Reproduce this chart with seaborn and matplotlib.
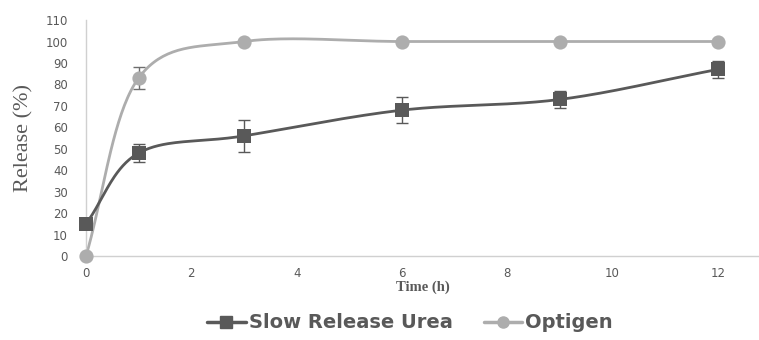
import numpy as np
import pandas as pd
import matplotlib
matplotlib.use("Agg")
import matplotlib.pyplot as plt
import seaborn as sns
from matplotlib.lines import Line2D

time_h = [0, 1, 3, 6, 9, 12]
slow_release = [15, 48, 56, 68, 73, 87]
slow_err = [0, 4, 7.5, 6, 4, 4]
optigen = [0, 83, 100, 100, 100, 100]
optigen_err = [0, 5, 0, 0, 0, 0]
series_names = ["Slow Release Urea", "Optigen"]
y_ticks = list(range(0, 111, 10))
x_ticks = list(range(0, 13, 2))

def smooth(x, y, n=40):
    # Catmull-Rom style smoothing (like spreadsheet "smoothed line")
    x = np.asarray(x, float); y = np.asarray(y, float)
    px = np.concatenate([[2*x[0]-x[1]], x, [2*x[-1]-x[-2]]])
    py = np.concatenate([[2*y[0]-y[1]], y, [2*y[-1]-y[-2]]])
    xs, ys = [], []
    for i in range(1, len(px)-2):
        p0 = np.array([px[i-1], py[i-1]]); p1 = np.array([px[i], py[i]])
        p2 = np.array([px[i+1], py[i+1]]); p3 = np.array([px[i+2], py[i+2]])
        c1 = p1 + (p2 - p0) / 6.0
        c2 = p2 - (p3 - p1) / 6.0
        t = np.linspace(0, 1, n)[:, None]
        b = (1-t)**3*p1 + 3*(1-t)**2*t*c1 + 3*(1-t)*t**2*c2 + t**3*p2
        xs.append(b[:, 0]); ys.append(b[:, 1])
    return np.concatenate(xs), np.concatenate(ys)

sns.set_theme(style="white")
plt.rcParams['font.family'] = ['DejaVu Sans']

fig = plt.figure(figsize=(7.59, 3.40), dpi=100)
ax = fig.add_axes([0.1133, 0.247, 0.8867, 0.694])

dark = "#595959"
light = "#ADADAD"

sx, sy = smooth(time_h, slow_release)
ox, oy = smooth(time_h, optigen)
sdf = pd.DataFrame({"x": sx, "y": sy})
odf = pd.DataFrame({"x": ox, "y": oy})
sns.lineplot(data=odf, x="x", y="y", ax=ax, color=light, lw=2, sort=False, zorder=2)
sns.lineplot(data=sdf, x="x", y="y", ax=ax, color=dark, lw=2, sort=False, zorder=3)

ax.errorbar(time_h, optigen, yerr=optigen_err, fmt="none", ecolor="#6e6e6e", elinewidth=1, capsize=4, capthick=1, zorder=4)
ax.errorbar(time_h, slow_release, yerr=slow_err, fmt="none", ecolor=dark, elinewidth=1, capsize=4, capthick=1, zorder=4)

pdf = pd.DataFrame({"x": time_h, "slow": slow_release, "opt": optigen})
sns.scatterplot(data=pdf, x="x", y="opt", ax=ax, color=light, marker="o", s=105, edgecolor=light, linewidth=0, zorder=5)
sns.scatterplot(data=pdf, x="x", y="slow", ax=ax, color=dark, marker="s", s=90, edgecolor=dark, linewidth=0, zorder=6)

ax.set_xlim(0, 12.78)
ax.set_ylim(0, 110)
ax.set_xticks(x_ticks)
ax.set_yticks(y_ticks)
ax.tick_params(axis="both", length=0, labelsize=8.5, labelcolor=dark)
ax.tick_params(axis="x", pad=8)
ax.tick_params(axis="y", pad=13)
for s in ["top", "right"]:
    ax.spines[s].set_visible(False)
for s in ["left", "bottom"]:
    ax.spines[s].set_color("#D0D0D0")
    ax.spines[s].set_linewidth(1)
for coll in ax.collections + ax.lines:
    coll.set_clip_on(False)

ax.set_xlabel("Time (h)", family="Liberation Serif", fontweight="bold", fontsize=10.5, color=dark, labelpad=0)
ax.set_ylabel("Release (%)", family="Liberation Serif", fontsize=16, color=dark, labelpad=9)

handles = [
    Line2D([0], [0], color=dark, lw=2.5, marker="s", markersize=8),
    Line2D([0], [0], color=light, lw=2.5, marker="o", markersize=8),
]
fig.legend(handles, series_names, loc="center", bbox_to_anchor=(0.54, 0.05), ncol=2, frameon=False,
           prop={"weight": "bold", "size": 14}, labelcolor=dark, handlelength=2.0, handletextpad=0.15,
           columnspacing=1.6)

fig.savefig("out.png", dpi=100)
